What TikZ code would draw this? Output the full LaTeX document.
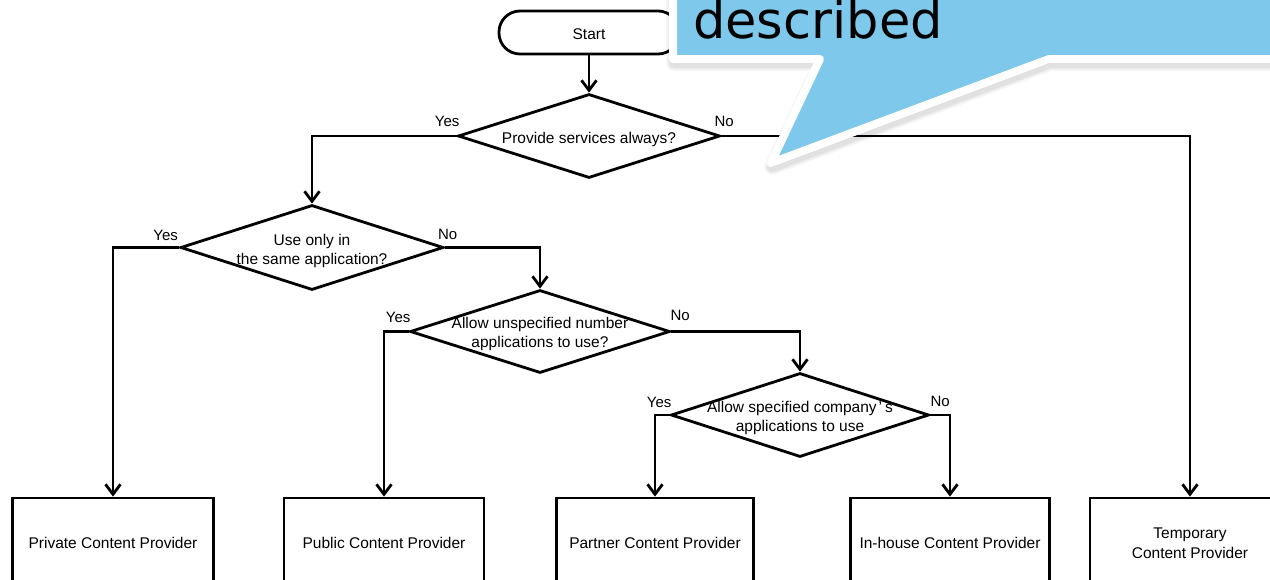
\documentclass[tikz,border=0pt]{standalone}
\usepackage{fontspec}
\setmainfont{Liberation Sans}
\newfontfamily\calloutfont{DejaVu Sans}
\usetikzlibrary{shapes.geometric,arrows.meta}
\definecolor{calloutblue}{RGB}{125,200,235}
\newcommand\calloutoutline{(673,-30) -- (1300,-30) -- (1300,59) -- (1049,59) -- (771,163) -- (820,59) -- (673,59) -- cycle}
\begin{document}
\begin{tikzpicture}[x=1pt,y=-1pt,
  flow/.style={line width=2.8pt,-{Straight Barb[length=10pt,width=15pt]}},
  startbox/.style={draw,line width=2.8pt,rounded corners=21pt,minimum width=180pt,minimum height=43pt,inner sep=0pt},
  decision/.style={draw,diamond,line width=2.8pt,inner sep=0pt},
  qtext/.style={align=center,inner sep=0pt,font=\fontsize{15.5}{19}\selectfont},
  result/.style={draw,line width=2.8pt,minimum height=90pt,inner sep=0pt,align=center,font=\fontsize{15.5}{20}\selectfont},
  answer/.style={inner sep=0pt,font=\fontsize{15}{17}\selectfont},
]
\useasboundingbox (0,0) rectangle (1270,579);
\clip (0,0) rectangle (1270,579);

% start terminal
\node[startbox] (start) at (589,32.5) {};
\node[qtext] (starttext) at ([yshift=-1.5pt]start.center) {Start};

% decisions
\node[decision,minimum width=262pt,minimum height=84pt] (d1) at (589,136) {};
\node[qtext] (q1) at ([yshift=-3pt]d1.center) {Provide services always?};
\node[decision,minimum width=263pt,minimum height=85pt] (d2) at (312,247.5) {};
\node[qtext] (q2) at ([yshift=-3.5pt]d2.center) {Use only in\\the same application?};
\node[decision,minimum width=260pt,minimum height=83pt] (d3) at (540,331.5) {};
\node[qtext] (q3) at ([yshift=-2.5pt]d3.center) {Allow unspecified number\\applications to use?};
\node[decision,minimum width=258pt,minimum height=84pt] (d4) at (800,415) {};
\node[qtext] (q4) at ([yshift=-3pt]d4.center) {Allow specified company\kern2pt’\kern3pt s\\applications to use};

% outcomes
\node[result,minimum width=201pt] (private) at (113,543) {Private Content Provider};
\node[result,minimum width=200pt] (public) at (384,543) {Public Content Provider};
\node[result,minimum width=197pt] (partner) at (655,543) {Partner Content Provider};
\node[result,minimum width=199pt] (inhouse) at (950,543) {In-house Content Provider};
\node[result,minimum width=200pt] (temp) at (1190,543) {Temporary\\Content Provider};

% connectors
\draw[flow] (start) -- (d1);
\draw[flow] (d1.west) -| (d2.north);
\draw[flow] (d1.east) -| (temp.north);
\draw[flow] (d2.west) -| (private.north);
\draw[flow] (d2.east) -| (d3.north);
\draw[flow] (d3.west) -| (public.north);
\draw[flow] (d3.east) -| (d4.north);
\draw[flow] (d4.west) -| (partner.north);
\draw[flow] (d4.east) -| (inhouse.north);

% yes / no labels
\node[answer,anchor=base east] (y1) at ([shift={(3,-10)}]d1.west) {Yes};
\node[answer,anchor=base west] (n1) at ([shift={(-7,-10)}]d1.east) {No};
\node[answer,anchor=base east] (y2) at ([shift={(-1,-7)}]d2.west) {Yes};
\node[answer,anchor=base west] (n2) at ([shift={(-7,-8)}]d2.east) {No};
\node[answer,anchor=base east] (y3) at ([shift={(2,-9)}]d3.west) {Yes};
\node[answer,anchor=base west] (n3) at ([shift={(-1,-11)}]d3.east) {No};
\node[answer,anchor=base east] (y4) at ([shift={(2,-8)}]d4.west) {Yes};
\node[answer,anchor=base west] (n4) at ([shift={(0,-9)}]d4.east) {No};

% speech callout with soft shadow and white rim
\foreach \w/\o in {16/0.03,13/0.04,10/0.05}
  \path[fill=black,draw=black,opacity=\o,line width=\w pt,line join=round,shift={(1,4)}] \calloutoutline;
\path[fill=calloutblue,draw=white,line width=8pt,line join=round] \calloutoutline;
\node[anchor=base west,inner sep=0pt,font=\calloutfont\fontsize{51}{60}\selectfont] (calltext) at (693,38) {described};
\end{tikzpicture}
\end{document}
